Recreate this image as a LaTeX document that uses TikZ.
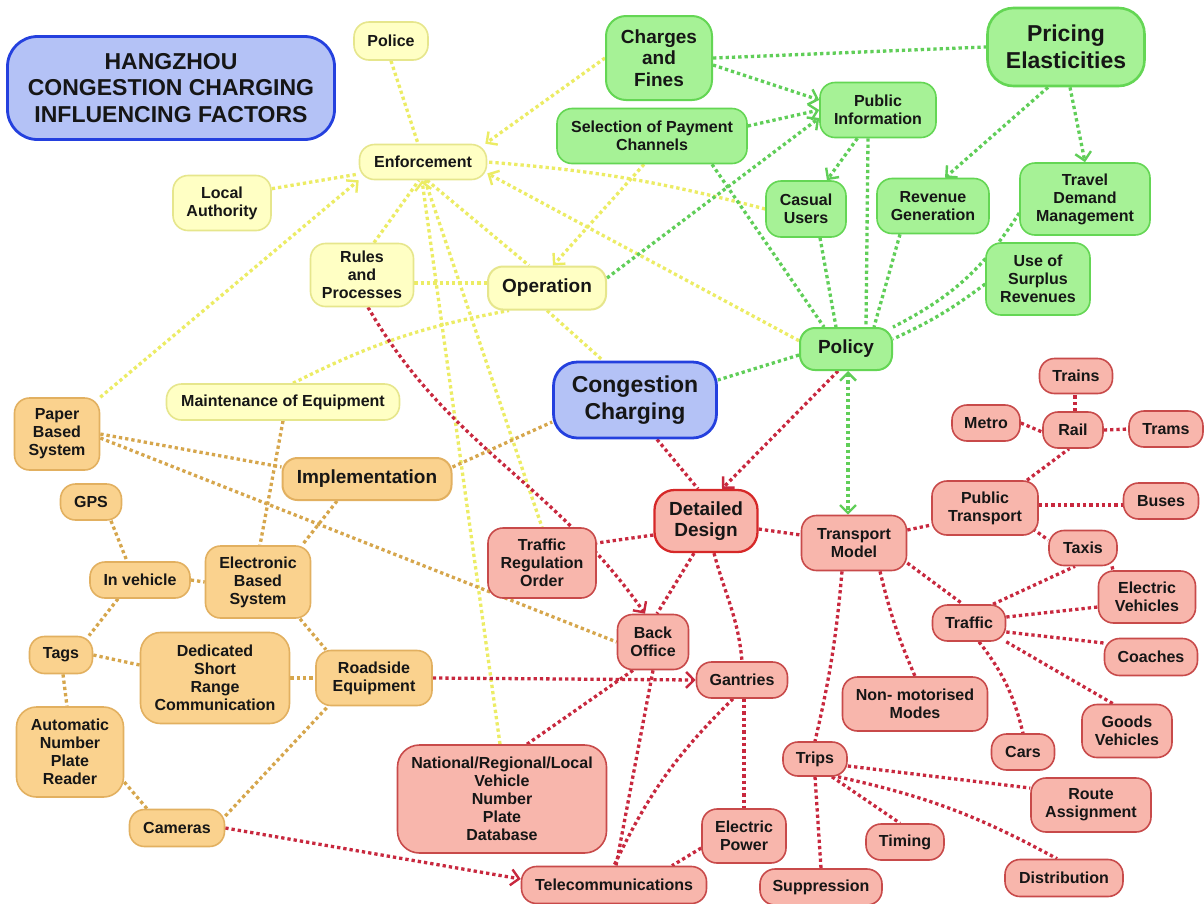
\documentclass[tikz,border=0pt]{standalone}
\usepackage{fontspec}
\setmainfont{Liberation Sans}
\usetikzlibrary{arrows.meta}
\pgfdeclarelayer{bg}
\pgfdeclarelayer{paper}
\pgfsetlayers{paper,bg,main}

\definecolor{yelF}{RGB}{255,255,196}
\definecolor{yelB}{RGB}{230,230,140}
\definecolor{yelE}{RGB}{236,236,100}
\definecolor{grnF}{RGB}{166,242,150}
\definecolor{grnB}{RGB}{100,214,84}
\definecolor{grnE}{RGB}{96,206,88}
\definecolor{oraF}{RGB}{250,210,142}
\definecolor{oraB}{RGB}{226,176,96}
\definecolor{oraE}{RGB}{214,166,76}
\definecolor{redF}{RGB}{248,182,172}
\definecolor{redB}{RGB}{200,74,74}
\definecolor{redE}{RGB}{200,40,62}
\definecolor{bluF}{RGB}{180,194,246}
\definecolor{bluB}{RGB}{36,64,222}
\definecolor{ink}{RGB}{22,22,22}

\newcommand\smallbf{\fontsize{16}{18}\selectfont\bfseries}
\newcommand\midbf{\fontsize{19}{21.5}\selectfont\bfseries}
\newcommand\largebf{\fontsize{23}{26.5}\selectfont\bfseries}

\tikzset{
  box/.style={rounded corners=15pt, line width=1.6pt, align=center,
              inner sep=0pt, font=\smallbf, text=ink},
  sz/.style args={#1x#2}{minimum width=#1pt, minimum height=#2pt},
  yb/.style={box, fill=yelF, draw=yelB},
  gb/.style={box, fill=grnF, draw=grnB},
  ob/.style={box, fill=oraF, draw=oraB},
  rb/.style={box, fill=redF, draw=redB},
  bb/.style={box, fill=bluF, draw=bluB, line width=2.8pt, font=\largebf},
  mid/.style={font=\midbf},
  big/.style={font=\largebf},
  link/.style={line width=3.3pt, dash pattern=on 3.3pt off 3pt},
  ye/.style={link, draw=yelE},
  ge/.style={link, draw=grnE},
  oe/.style={link, draw=oraE},
  re/.style={link, draw=redE},
  >={Straight Barb[length=8pt,width=16pt,line width=2.4pt]},
}

\begin{document}
\begin{tikzpicture}[x=1pt,y=-1pt]
\begin{pgfonlayer}{paper}
\fill[white] (0,0) rectangle (1204,903);
\end{pgfonlayer}
\useasboundingbox (0,0) rectangle (1204,903);

% ---------- title and hub ----------
\node[bb, rounded corners=30pt, sz=327x103] (title) at (171,88) {HANGZHOU\\CONGESTION CHARGING\\INFLUENCING FACTORS};
\node[bb, rounded corners=24pt, sz=163x76] (cc) at (635,400) {Congestion\\Charging};

% ---------- operation / enforcement (yellow) ----------
\node[yb, sz=74x38] (police) at (391,41) {Police};
\node[yb, sz=127x35] (enf) at (423,162) {Enforcement};
\node[yb, sz=98x55] (la) at (222,203) {Local\\Authority};
\node[yb, sz=103x63] (rules) at (362,275) {Rules\\and\\Processes};
\node[yb, mid, line width=2pt, sz=118x43] (oper) at (547,288) {Operation};
\node[yb, sz=233x36] (maint) at (283,402) {Maintenance of Equipment};

% ---------- policy (green) ----------
\node[gb, mid, line width=2pt, rounded corners=20pt, sz=106x84] (cf) at (659,58) {Charges\\and\\Fines};
\node[gb, big, line width=2.6pt, rounded corners=26pt, sz=157x78] (pe) at (1066,47) {Pricing\\Elasticities};
\node[gb, sz=116x55] (pi) at (878,110) {Public\\Information};
\node[gb, sz=190x55] (spc) at (652,136) {Selection of Payment\\Channels};
\node[gb, sz=80x56] (cu) at (806,209) {Casual\\Users};
\node[gb, sz=112x55] (rg) at (933,206) {Revenue\\Generation};
\node[gb, sz=130x72] (tdm) at (1085,199) {Travel\\Demand\\Management};
\node[gb, sz=104x72] (usr) at (1038,279) {Use of\\Surplus\\Revenues};
\node[gb, mid, line width=2pt, sz=92x42] (pol) at (846,349) {Policy};

% ---------- implementation (orange) ----------
\node[ob, sz=85x72] (pbs) at (57,434) {Paper\\Based\\System};
\node[ob, mid, line width=2pt, sz=169x42] (impl) at (367,479) {Implementation};
\node[ob, sz=61x36] (gps) at (91,502) {GPS};
\node[ob, sz=100x36] (inv) at (140,580) {In vehicle};
\node[ob, sz=105x72] (ebs) at (258,582) {Electronic\\Based\\System};
\node[ob, sz=63x37] (tags) at (61,655) {Tags};
\node[ob, rounded corners=20pt, sz=149x91] (dsrc) at (215,678) {Dedicated\\Short\\Range\\Communication};
\node[ob, sz=116x55] (rse) at (374,678) {Roadside\\Equipment};
\node[ob, rounded corners=20pt, sz=107x90] (anpr) at (70,752) {Automatic\\Number\\Plate\\Reader};
\node[ob, sz=95x37] (cam) at (177,828) {Cameras};

% ---------- detailed design (red) ----------
\node[rb, mid, draw={rgb,255:red,214;green,40;blue,40}, line width=2.3pt, rounded corners=20pt, sz=103x62] (dd) at (706,521) {Detailed\\Design};
\node[rb, sz=108x70] (tro) at (542,563) {Traffic\\Regulation\\Order};
\node[rb, sz=105x55] (tm) at (854,543) {Transport\\Model};
\node[rb, sz=106x54] (pt) at (985,508) {Public\\Transport};
\node[rb, sz=73x35] (trains) at (1076,376) {Trains};
\node[rb, sz=68x36] (metro) at (986,423) {Metro};
\node[rb, sz=60x36] (rail) at (1073,430) {Rail};
\node[rb, sz=74x36] (trams) at (1166,429) {Trams};
\node[rb, sz=75x36] (buses) at (1161,501) {Buses};
\node[rb, sz=68x35] (taxis) at (1083,548) {Taxis};
\node[rb, sz=97x52] (ev) at (1147,597) {Electric\\Vehicles};
\node[rb, sz=73x36] (traffic) at (969,623) {Traffic};
\node[rb, sz=93x37] (coaches) at (1151,657) {Coaches};
\node[rb, sz=90x53] (goods) at (1127,731) {Goods\\Vehicles};
\node[rb, sz=63x36] (cars) at (1023,752) {Cars};
\node[rb, sz=145x54] (nmm) at (915,704) {Non- motorised\\Modes};
\node[rb, sz=64x34] (trips) at (815,759) {Trips};
\node[rb, sz=120x54] (route) at (1091,805) {Route\\Assignment};
\node[rb, sz=78x36] (timing) at (905,842) {Timing};
\node[rb, sz=118x37] (distr) at (1064,878) {Distribution};
\node[rb, sz=122x36] (supp) at (821,887) {Suppression};
\node[rb, sz=71x55] (bo) at (653,642) {Back\\Office};
\node[rb, sz=91x36] (gant) at (742,680) {Gantries};
\node[rb, rounded corners=22pt, sz=209x108] (ndb) at (502,799) {National/Regional/Local\\Vehicle\\Number\\Plate\\Database};
\node[rb, sz=84x54] (ep) at (744,836) {Electric\\Power};
\node[rb, sz=185x37] (tel) at (614,885) {Telecommunications};

\begin{pgfonlayer}{bg}
% yellow links
\draw[ye] (police.south) -- ([xshift=-5pt]enf.north);
\draw[ye] ([yshift=-14pt]la.north east) -- ([yshift=-12pt]enf.west);
\draw[ye,->] (pbs.north east) -- (enf.south west);
\draw[ye,->] (cf.west) -- ([xshift=-2pt]enf.north east);
\draw[ye] (cu.west) to[bend right=5] (enf.east);
\draw[ye,->] (pol.170) -- (enf.-10);
\draw[ye] ([xshift=12pt]rules.north) -- ([xshift=-4pt]enf.south);
\draw[ye] ([yshift=-8pt]rules.east) -- ([yshift=5pt]oper.west);
\draw[ye] ([xshift=4pt]enf.south) -- ([xshift=-18pt]oper.north);
\draw[ye] ([xshift=2pt]enf.south) -- (tro.north);
\draw[ye,->] ([xshift=-2pt]ndb.north) -- ([xshift=-1pt]enf.south);
\draw[ye] (oper.south) -- ([xshift=-32pt]cc.north);
\draw[ye] ([xshift=10pt]maint.north) to[bend left=8] ([xshift=-38pt]oper.south);
\draw[ye,->] ([xshift=-8pt]spc.south) -- ([xshift=6pt]oper.north);

% green links
\draw[ge] (cf.east) -- (pe.west);
\draw[ge,->] ([yshift=-7pt]cf.east) -- ([yshift=10pt]pi.west);
\draw[ge,->] ([yshift=10pt]spc.east) -- (pi.west);
\draw[ge,->] ([yshift=10pt]oper.east) -- ([yshift=-8pt]pi.west);
\draw[ge,->] (pi) -- (cu);
\draw[ge] ([xshift=-10pt]pi.south) -- ([xshift=20pt]pol.north);
\draw[ge] ([xshift=60pt]spc.south) -- ([xshift=-22pt]pol.north);
\draw[ge] ([xshift=14pt]cu.south) -- ([xshift=-10pt]pol.north);
\draw[ge] ([xshift=-33pt]rg.south) -- ([xshift=28pt]pol.north);
\draw[ge] ([yshift=-14pt]tdm.west) to[bend left=15] (pol.25);
\draw[ge] ([yshift=-5pt]usr.west) to[bend left=6] (pol.12);
\draw[ge,->] ([xshift=-18pt]pe.south) -- ([xshift=12pt]rg.north);
\draw[ge,->] ([xshift=4pt]pe.south) -- (tdm.north);
\draw[ge] ([yshift=-6pt]pol.west) -- ([yshift=20pt]cc.east);
\draw[ge,<->] ([xshift=2pt]pol.south) -- ([xshift=-6pt]tm.north);

% red links
\draw[re,->] ([xshift=-8pt]pol.south) -- ([xshift=16pt]dd.north);
\draw[re] ([xshift=22pt]cc.south) -- ([xshift=-8pt]dd.north);
\draw[re,->] ([xshift=6pt]rules.south) to[out=-60,in=125] ([xshift=-8pt]bo.north);
\draw[re] ([yshift=-14pt]dd.west) -- ([yshift=20pt]tro.east);
\draw[re] ([yshift=-8pt]dd.east) -- ([yshift=8pt]tm.west);
\draw[re] ([xshift=-12pt]dd.south) -- ([xshift=4pt]bo.north);
\draw[re] ([xshift=8pt]dd.south) to[out=-75,in=95] (gant.north);
\draw[re,->] (rse.east) -- (gant.west);
\draw[re,->] (cam.east) -- ([yshift=6pt]tel.west);
\draw[re] ([xshift=-20pt]bo.south) -- ([xshift=25pt]ndb.north);
\draw[re] (bo.south) -- ([xshift=2pt]tel.north);
\draw[re] ([xshift=-9pt]gant.south) to[bend right=10] (tel.north);
\draw[re] ([xshift=2pt]gant.south) -- (ep.north);
\draw[re] ([yshift=-12pt]ep.west) -- ([xshift=58pt]tel.north);
\draw[re] ([yshift=13pt]tm.east) -- ([yshift=-17pt]pt.west);
\draw[re] ([yshift=-20pt]tm.east) -- ([xshift=-6pt]traffic.north);
\draw[re] ([xshift=26pt]tm.south) to[bend right=5] (nmm.north);
\draw[re] ([xshift=-12pt]tm.south) to[bend left=4] (trips.north);
\draw[re] ([xshift=42pt]pt.north) -- ([xshift=-4pt]rail.south);
\draw[re] ([yshift=3pt]pt.east) -- ([yshift=-4pt]buses.west);
\draw[re] ([shift={(-6pt,7pt)}]pt.south east) -- ([yshift=8pt]taxis.west);
\draw[re] ([xshift=2pt]rail.north) -- ([xshift=-1pt]trains.south);
\draw[re] (metro.east) -- ([yshift=-2pt]rail.west);
\draw[re] (rail.east) -- (trams.west);
\draw[re] ([xshift=24pt]traffic.north) -- ([xshift=-8pt]taxis.south);
\draw[re] ([xshift=29pt]taxis.south) -- ([xshift=-34pt]ev.north);
\draw[re] ([yshift=6pt]traffic.east) -- ([yshift=-10pt]ev.west);
\draw[re] ([yshift=-9pt]traffic.east) -- ([yshift=14pt]coaches.west);
\draw[re] (traffic.south east) -- ([xshift=-14pt]goods.north);
\draw[re] ([xshift=10pt]traffic.south) to[bend left=12] (cars.north);
\draw[re] ([yshift=-7pt]trips.east) -- ([yshift=17pt]route.west);
\draw[re] ([xshift=17pt]trips.south) -- ([xshift=-5pt]timing.north);
\draw[re] ([xshift=23pt]trips.south) to[bend left=8] ([xshift=-7pt]distr.north);
\draw[re] (trips.south) -- (supp.north);

% orange links
\draw[oe] (pbs.east) -- ([yshift=12pt]impl.west);
\draw[oe] ([yshift=-4pt]pbs.east) -- (bo.west);
\draw[oe] ([yshift=12pt]impl.east) -- ([yshift=-22pt]cc.west);
\draw[oe] ([xshift=-30pt]impl.south) -- ([xshift=44pt]ebs.north);
\draw[oe] (maint.south) -- ([xshift=2pt]ebs.north);
\draw[oe] ([xshift=20pt]gps.south) -- ([xshift=-13pt]inv.north);
\draw[oe] (inv.east) -- (ebs.west);
\draw[oe] ([xshift=-22pt]inv.south) -- ([xshift=28pt]tags.north);
\draw[oe] (tags.east) -- ([yshift=13pt]dsrc.west);
\draw[oe] ([xshift=2pt]tags.south) -- ([xshift=-3pt]anpr.north);
\draw[oe] ([yshift=-30pt]anpr.east) -- ([xshift=-30pt]cam.north);
\draw[oe] ([yshift=12pt]cam.east) -- ([xshift=-46pt]rse.south);
\draw[oe] (dsrc.east) -- (rse.west);
\draw[oe] ([xshift=42pt]ebs.south) -- ([xshift=-48pt]rse.north);
\end{pgfonlayer}
\end{tikzpicture}
\end{document}
